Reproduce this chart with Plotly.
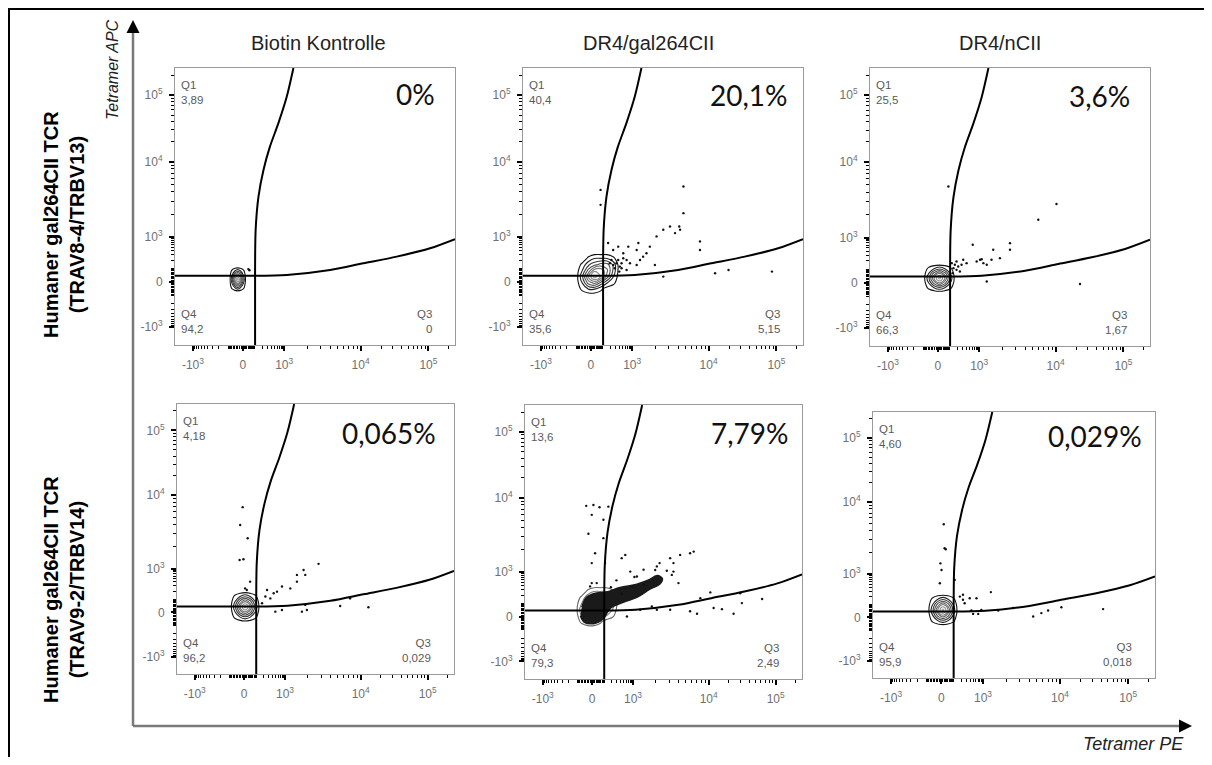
import numpy as np
import plotly.graph_objects as go

# ---------------- data (channel units 0-1000 on a biexponential display) ----------------
col_titles = ["Biotin Kontrolle", "DR4/gal264CII", "DR4/nCII"]
row_labels = ["Humaner gal264CII TCR<br>(TRAV8-4/TRBV13)",
              "Humaner gal264CII TCR<br>(TRAV9-2/TRBV14)"]
pct_labels = ["0%", "20,1%", "3,6%", "0,065%", "7,79%", "0,029%"]
q1_labels = ["3,89", "40,4", "25,5", "4,18", "13,6", "4,60"]
q3_labels = ["0", "5,15", "1,67", "0,029", "2,49", "0,018"]
q4_labels = ["94,2", "35,6", "66,3", "96,2", "79,3", "95,9"]

tick_values = [-1000, 0, 1000, 10000, 100000]
tick_text = ["-10<sup>3</sup>", "0", "10<sup>3</sup>", "10<sup>4</sup>", "10<sup>5</sup>"]
x_tick_channel = [64, 242, 390, 663, 905]
y_tick_channel = [64, 228, 390, 662, 902]

# quadrant gate (shared by all panels)
quad_x = 286
quad_y = 250
gate_v_x = [286, 288, 298, 316, 339, 369, 399, 423]
gate_v_y = [250, 415, 535, 632, 716, 800, 896, 1000]
gate_h_x = [286, 399, 554, 673, 792, 911, 1000]
gate_h_y = [250, 253, 271, 295, 319, 349, 382]

round_density = [
    [0, 0, 0, 0, 0, 0, 0],
    [0, 1, 2, 3, 2, 1, 0],
    [0, 2, 5, 7, 5, 2, 0],
    [0, 3, 7, 10, 7, 3, 0],
    [0, 2, 5, 7, 5, 2, 0],
    [0, 1, 2, 3, 2, 1, 0],
    [0, 0, 0, 0, 0, 0, 0]]
skew_density = [
    [0, 0, 0, 0, 0, 0, 0, 0],
    [0, 1, 2, 2, 1, 0, 0, 0],
    [0, 2, 5, 6, 4, 2, 1, 0],
    [0, 3, 7, 10, 8, 5, 2, 0],
    [0, 2, 5, 8, 8, 6, 3, 0],
    [0, 1, 3, 4, 5, 5, 3, 0],
    [0, 0, 1, 2, 2, 2, 1, 0],
    [0, 0, 0, 0, 0, 0, 0, 0]]

p1_core_x = [194, 204, 214, 224, 234, 244, 254]
p1_core_y = [192, 207, 222, 237, 252, 267, 282]
p2_core_x = [190, 212, 234, 256, 278, 300, 322, 344]
p2_core_y = [180, 202, 224, 246, 268, 290, 312, 334]
p3_core_x = [191, 210, 229, 248, 267, 286, 305]
p3_core_y = [193, 210, 227, 244, 261, 278, 295]
p4_core_x = [192, 210, 228, 246, 264, 282, 300]
p4_core_y = [192, 211, 230, 249, 268, 287, 306]
p5_core_x = [183, 205, 227, 249, 271, 293, 315, 337]
p5_core_y = [187, 209, 231, 253, 275, 297, 319, 341]
p6_core_x = [194, 212, 230, 248, 266, 284, 302]
p6_core_y = [196, 216, 236, 256, 276, 296, 316]

# dense event region in DR4/gal264CII, TRAV9-2/TRBV14
p5_blob_x = [205, 220, 250, 295, 343, 404, 448, 478, 496, 488, 448, 404, 355, 307, 283, 247, 213, 200]
p5_blob_y = [262, 296, 312, 318, 334, 346, 362, 378, 366, 348, 326, 298, 280, 258, 220, 202, 208, 230]

# outlier events
p1_dots_x = [262, 266]
p1_dots_y = [274, 270]
p2_dots_x = [277, 277, 304, 322, 340, 358, 370, 382, 406, 429, 453, 477, 501, 525, 561, 573, 558, 543,
             632, 632, 686, 734, 889, 501, 471, 406, 370, 352, 418, 441, 573, 412, 376, 316, 334, 346,
             328, 340, 352, 322, 310, 358, 344]
p2_dots_y = [560, 506, 368, 343, 355, 331, 307, 295, 343, 319, 355, 392, 416, 428, 416, 476, 428, 404,
             374, 343, 259, 271, 265, 247, 289, 289, 271, 295, 307, 331, 572, 368, 355, 307, 295, 283,
             277, 307, 277, 289, 295, 313, 265]
p3_dots_x = [280, 367, 393, 405, 417, 440, 464, 500, 500, 417, 601, 666, 750, 345, 333, 309, 303, 381,
             399, 434, 292, 298, 315, 321, 295, 309, 327]
p3_dots_y = [574, 364, 310, 298, 292, 346, 316, 370, 346, 232, 454, 511, 223, 298, 310, 274, 292, 304,
             312, 310, 298, 280, 286, 268, 262, 304, 292]
p4_dots_x = [237, 228, 255, 226, 240, 511, 457, 463, 433, 433, 409, 379, 361, 349, 325, 319, 307, 451,
             463, 469, 379, 355, 589, 691, 625, 264, 252, 246, 337]
p4_dots_y = [618, 552, 503, 422, 425, 408, 385, 367, 367, 342, 317, 324, 305, 299, 311, 287, 262, 231,
             256, 237, 237, 231, 252, 247, 280, 342, 311, 317, 280]
p5_dots_x = [221, 247, 269, 301, 241, 283, 229, 283, 253, 241, 349, 289, 362, 486, 524, 536, 536, 560,
             596, 609, 476, 428, 380, 404, 554, 241, 259, 235, 524, 596, 621, 681, 711, 753, 777, 783,
             856, 368, 416, 458, 669, 633, 476, 349, 389, 428, 512, 530, 470, 330, 310, 395]
p5_dots_y = [632, 635, 627, 629, 599, 581, 530, 514, 459, 423, 441, 423, 453, 423, 441, 423, 392, 453,
             459, 465, 411, 399, 392, 374, 350, 350, 350, 338, 253, 247, 238, 259, 255, 238, 313, 277,
             292, 228, 253, 265, 316, 295, 253, 311, 338, 344, 395, 380, 398, 360, 335, 372]
p6_dots_x = [251, 254, 258, 239, 243, 237, 290, 418, 367, 343, 319, 325, 349, 373, 355, 384, 444, 497,
             568, 597, 621, 668, 816, 319, 308]
p6_dots_y = [578, 488, 484, 431, 406, 356, 369, 323, 300, 300, 294, 281, 254, 241, 241, 256, 254, 263,
             231, 244, 254, 266, 259, 313, 306]

panels = [
    dict(cx=p1_core_x, cy=p1_core_y, z=round_density, dx=p1_dots_x, dy=p1_dots_y),
    dict(cx=p2_core_x, cy=p2_core_y, z=skew_density, dx=p2_dots_x, dy=p2_dots_y),
    dict(cx=p3_core_x, cy=p3_core_y, z=round_density, dx=p3_dots_x, dy=p3_dots_y),
    dict(cx=p4_core_x, cy=p4_core_y, z=round_density, dx=p4_dots_x, dy=p4_dots_y),
    dict(cx=p5_core_x, cy=p5_core_y, z=skew_density, dx=p5_dots_x, dy=p5_dots_y),
    dict(cx=p6_core_x, cy=p6_core_y, z=round_density, dx=p6_dots_x, dy=p6_dots_y),
]

# ---------------- layout geometry (pixels of the 1212x765 page) ----------------
PAGE_PAD = 8                      # default body margin of the html page
W, H = 1212 - 2 * PAGE_PAD, 765 - 2 * PAGE_PAD
boxes = [(175, 455, 68, 345), (523, 803, 68, 345), (870, 1150, 68, 346),
         (177, 454, 404, 674), (525, 802, 405, 679), (873, 1155, 412, 678)]
pct_pos = [(935, 905), (952, 903), (935, 900), (942, 893), (962, 898), (962, 910)]


def px(x):
    return (x - PAGE_PAD) / W


def py(y):
    return 1 - (y - PAGE_PAD) / H


def channel_of(v, anchors):
    neg, zero, p3, p4, p5 = anchors
    if abs(v) <= 1000:
        f = np.arcsinh(abs(v) / 100) / np.arcsinh(10)
        return zero + (p3 - zero) * f if v >= 0 else zero - (zero - neg) * f
    d = np.log10(v)
    if d <= 4:
        return p3 + (d - 3) * (p4 - p3)
    return p4 + (d - 4) * (p5 - p4)


minor_vals = ([-k * 100 for k in range(1, 10)] + [-k * 10 for k in range(1, 10)] +
              [k * 10 for k in range(1, 10)] + [k * 100 for k in range(1, 10)] +
              [k * 1000 for k in range(2, 10)] + [k * 10000 for k in range(2, 10)] + [200000])
x_minor = [channel_of(v, x_tick_channel) for v in minor_vals]
y_minor = [channel_of(v, y_tick_channel) for v in minor_vals]

fig = go.Figure()
annotations = []
shapes = []
layout_axes = {}
FONT = "Liberation Sans, Arial, sans-serif"

for i, (p, box) in enumerate(zip(panels, boxes)):
    k = i + 1
    xa = "x" if k == 1 else f"x{k}"
    ya = "y" if k == 1 else f"y{k}"
    L, R, T, B = box
    axis_common = dict(range=[0, 1000], showgrid=False, zeroline=False, showline=True, mirror=True,
                       linecolor="#9a9a9a", linewidth=1, ticks="outside", ticklen=5, tickwidth=2,
                       tickcolor="#000", tickfont=dict(family=FONT, size=12, color="#707070"),
                       ticklabelstandoff=4, fixedrange=True)
    layout_axes["xaxis" if k == 1 else f"xaxis{k}"] = dict(
        axis_common, domain=[px(L), px(R)], anchor=ya, tickmode="array",
        tickvals=x_tick_channel, ticktext=tick_text,
        minor=dict(tickmode="array", tickvals=x_minor, ticks="outside", ticklen=3, tickwidth=1,
                   tickcolor="#000", showgrid=False))
    layout_axes["yaxis" if k == 1 else f"yaxis{k}"] = dict(
        axis_common, domain=[py(B), py(T)], anchor=xa, tickmode="array",
        tickvals=y_tick_channel, ticktext=tick_text,
        minor=dict(tickmode="array", tickvals=y_minor, ticks="outside", ticklen=3, tickwidth=1,
                   tickcolor="#000", showgrid=False))

    if k == 5:
        fig.add_trace(go.Scatter(x=p5_blob_x, y=p5_blob_y, mode="lines", fill="toself",
                                 fillcolor="#1a1a1a", line=dict(color="#1a1a1a", width=1.5, shape="spline"),
                                 hoverinfo="skip", showlegend=False, xaxis=xa, yaxis=ya))
        cscale = [[0, "#666"], [1, "#e8e8e8"]]
    else:
        cscale = [[0, "#111"], [1, "#a0a0a0"]]
    fig.add_trace(go.Contour(x=p["cx"], y=p["cy"], z=p["z"], showscale=False,
                             contours=dict(coloring="lines", start=0.7, end=9.5, size=1.25),
                             line=dict(width=1.1, smoothing=1.3), colorscale=cscale,
                             hoverinfo="skip", xaxis=xa, yaxis=ya))
    fig.add_trace(go.Scatter(x=p["dx"], y=p["dy"], mode="markers",
                             marker=dict(size=2.4, color="#111"), hoverinfo="skip",
                             showlegend=False, xaxis=xa, yaxis=ya))
    # quadrant lines and curved gates
    fig.add_trace(go.Scatter(x=[0, quad_x, quad_x], y=[quad_y, quad_y, 0], mode="lines",
                             line=dict(color="#000", width=2), hoverinfo="skip",
                             showlegend=False, xaxis=xa, yaxis=ya))
    fig.add_trace(go.Scatter(x=gate_v_x, y=gate_v_y, mode="lines",
                             line=dict(color="#000", width=2, shape="spline", smoothing=0.8),
                             hoverinfo="skip", showlegend=False, xaxis=xa, yaxis=ya))
    fig.add_trace(go.Scatter(x=gate_h_x, y=gate_h_y, mode="lines",
                             line=dict(color="#000", width=2, shape="spline", smoothing=0.8),
                             hoverinfo="skip", showlegend=False, xaxis=xa, yaxis=ya))

    qfont = dict(family=FONT, size=11.5, color="#5a5a5a")
    annotations.append(dict(xref=xa, yref=ya, x=14, y=968, xanchor="left", yanchor="top",
                            text=f"Q1<br>{q1_labels[i]}", showarrow=False, align="left", font=qfont))
    annotations.append(dict(xref=xa, yref=ya, x=14, y=30, xanchor="left", yanchor="bottom",
                            text=f"Q4<br>{q4_labels[i]}", showarrow=False, align="left", font=qfont))
    annotations.append(dict(xref=xa, yref=ya, x=925, y=30, xanchor="right", yanchor="bottom",
                            text=f"Q3<br>{q3_labels[i]}", showarrow=False, align="right", font=qfont))
    annotations.append(dict(xref=xa, yref=ya, x=pct_pos[i][0], y=pct_pos[i][1], xanchor="right",
                            yanchor="middle", text=pct_labels[i], showarrow=False,
                            font=dict(family="Lato, Open Sans, sans-serif", size=28, color="#111")))

# column titles and row labels
for cx_px, t in zip([318, 648, 1000], col_titles):
    annotations.append(dict(xref="paper", yref="paper", x=px(cx_px), y=py(43), text=t,
                            showarrow=False, font=dict(family=FONT, size=20, color="#222"),
                            xanchor="center", yanchor="middle"))
for cy_px, t in zip([224, 589], row_labels):
    annotations.append(dict(xref="paper", yref="paper", x=px(64), y=py(cy_px), text=f"<b>{t}</b>",
                            showarrow=False, textangle=-90,
                            font=dict(family=FONT, size=20, color="#000"),
                            xanchor="center", yanchor="middle"))
annotations.append(dict(xref="paper", yref="paper", x=px(113), y=py(70), text="<i>Tetramer APC</i>",
                        showarrow=False, textangle=-90, font=dict(family=FONT, size=16, color="#222"),
                        xanchor="center", yanchor="middle"))
annotations.append(dict(xref="paper", yref="paper", x=px(1186), y=py(744), text="<i>Tetramer PE</i>",
                        showarrow=False, font=dict(family=FONT, size=18, color="#222"),
                        xanchor="right", yanchor="middle"))

# big axis arrows
shapes.append(dict(type="line", xref="paper", yref="paper", x0=px(133), x1=px(133),
                   y0=py(726), y1=py(30), line=dict(color="#7a7a7a", width=2.5)))
shapes.append(dict(type="line", xref="paper", yref="paper", x0=px(133), x1=px(1182),
                   y0=py(726), y1=py(726), line=dict(color="#7a7a7a", width=2.5)))
annotations.append(dict(xref="paper", yref="paper", x=px(133), y=py(20), ax=0, ay=14,
                        showarrow=True, arrowhead=2, arrowsize=1.3, arrowwidth=2, arrowcolor="#000",
                        text=""))
annotations.append(dict(xref="paper", yref="paper", x=px(1192), y=py(726), ax=-14, ay=0,
                        showarrow=True, arrowhead=2, arrowsize=1.3, arrowwidth=2, arrowcolor="#000",
                        text=""))
# outer frame (left and top edges visible)
shapes.append(dict(type="line", xref="paper", yref="paper", x0=px(9), x1=px(9),
                   y0=py(765), y1=py(8), line=dict(color="#000", width=2)))
shapes.append(dict(type="line", xref="paper", yref="paper", x0=px(8), x1=px(1204),
                   y0=py(9), y1=py(9), line=dict(color="#000", width=2)))

fig.update_layout(width=W, height=H, margin=dict(l=0, r=0, t=0, b=0),
                  paper_bgcolor="white", plot_bgcolor="white", showlegend=False,
                  annotations=annotations, shapes=shapes, **layout_axes)

fig.write_html("out.html")
